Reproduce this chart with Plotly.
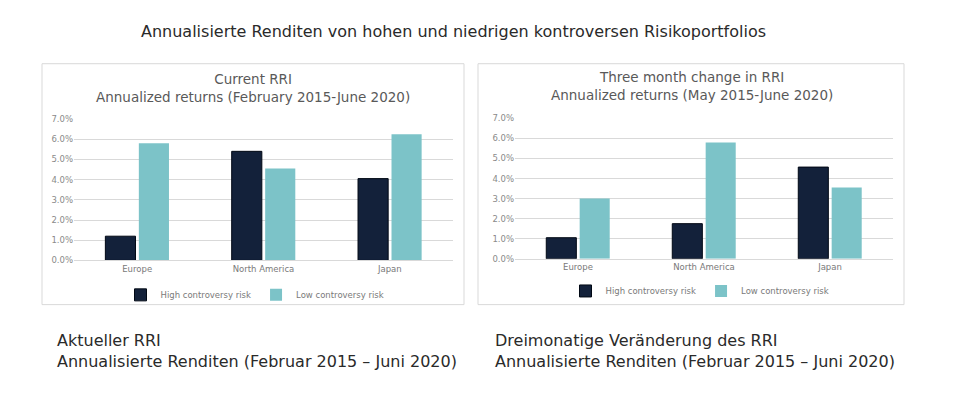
import plotly.graph_objects as go

categories = ["Europe", "North America", "Japan"]
series_names = ["High controversy risk", "Low controversy risk"]
current_high = [1.2, 5.4, 4.05]
current_low = [5.8, 4.55, 6.25]
change_high = [1.05, 1.75, 4.57]
change_low = [3.0, 5.8, 3.55]
y_ticks = [0, 1, 2, 3, 4, 5, 6, 7]
y_tick_labels = ["0.0%", "1.0%", "2.0%", "3.0%", "4.0%", "5.0%", "6.0%", "7.0%"]

main_title = "Annualisierte Renditen von hohen und niedrigen kontroversen Risikoportfolios"
left_title = "Current RRI<br>Annualized returns (February 2015-June 2020)"
right_title = "Three month change in RRI<br>Annualized returns (May 2015-June 2020)"
left_caption = "Aktueller RRI<br>Annualisierte Renditen (Februar 2015 – Juni 2020)"
right_caption = "Dreimonatige Veränderung des RRI<br>Annualisierte Renditen (Februar 2015 – Juni 2020)"

NAVY = "#13213a"
TEAL = "#7cc3c8"
GRID = "#d9d9d9"
FONT = "DejaVu Sans, sans-serif"

W, H = 960, 405
OFF = 8  # page body margin


def px_x(v):
    return (v - OFF) / W


def px_y(v):
    return 1 - (v - OFF) / H


fig = go.Figure()

fig.add_trace(go.Bar(x=categories, y=current_high, name=series_names[0],
                     marker=dict(color=NAVY, line=dict(color="#000814", width=1)),
                     xaxis="x", yaxis="y", legend="legend"))
fig.add_trace(go.Bar(x=categories, y=current_low, name=series_names[1],
                     marker=dict(color=TEAL, line=dict(width=0)),
                     xaxis="x", yaxis="y", legend="legend"))
fig.add_trace(go.Bar(x=categories, y=change_high, name=series_names[0],
                     marker=dict(color=NAVY, line=dict(color="#000814", width=1)),
                     xaxis="x2", yaxis="y2", legend="legend2"))
fig.add_trace(go.Bar(x=categories, y=change_low, name=series_names[1],
                     marker=dict(color=TEAL, line=dict(width=0)),
                     xaxis="x2", yaxis="y2", legend="legend2"))

yaxis_common = dict(range=[0, 7], tickvals=y_ticks, ticktext=y_tick_labels,
                    showgrid=True, gridcolor=GRID, gridwidth=1, zeroline=False,
                    tickfont=dict(size=8.5, color="#8a8a8a", family=FONT), ticks="", showline=False,
                    fixedrange=True)
xaxis_common = dict(showgrid=False, showline=True, linecolor=GRID, linewidth=1, ticks="",
                    tickfont=dict(size=8.5, color="#7a7a7a", family=FONT), fixedrange=True)

legend_common = dict(orientation="h", xanchor="center", yanchor="middle",
                     font=dict(size=8.5, color="#7a7a7a", family=FONT), itemwidth=30,
                     bgcolor="rgba(0,0,0,0)", traceorder="normal")

fig.update_layout(
    width=W, height=H,
    margin=dict(l=0, r=0, t=0, b=0),
    paper_bgcolor="white", plot_bgcolor="white",
    barmode="group", bargap=0.47, bargroupgap=0.1,
    font=dict(family=FONT),
    xaxis=dict(domain=[px_x(74), px_x(453)], anchor="y", **xaxis_common),
    yaxis=dict(domain=[px_y(261.7), px_y(116.7)], anchor="x", **yaxis_common),
    xaxis2=dict(domain=[px_x(515), px_x(893)], anchor="y2", **xaxis_common),
    yaxis2=dict(domain=[px_y(260), px_y(116)], anchor="x2", **yaxis_common),
    legend=dict(x=px_x(255), y=px_y(297), **legend_common),
    legend2=dict(x=px_x(700), y=px_y(293), **legend_common),
    showlegend=True,
)

shapes = [
    dict(type="rect", xref="paper", yref="paper", x0=px_x(42), x1=px_x(464), y0=px_y(307), y1=px_y(60),
         line=dict(color=GRID, width=1), fillcolor="rgba(0,0,0,0)", layer="below"),
    dict(type="rect", xref="paper", yref="paper", x0=px_x(478), x1=px_x(904), y0=px_y(307), y1=px_y(60),
         line=dict(color=GRID, width=1), fillcolor="rgba(0,0,0,0)", layer="below"),
]
fig.update_layout(shapes=shapes)

annotations = [
    dict(text=main_title, x=px_x(453), y=px_y(27), xanchor="center", yanchor="middle",
         font=dict(size=16, color="#2a2a2a", family=FONT)),
    dict(text=left_title, x=px_x(253), y=px_y(85), xanchor="center", yanchor="middle",
         font=dict(size=13.5, color="#595959", family=FONT)),
    dict(text=right_title, x=px_x(692), y=px_y(83), xanchor="center", yanchor="middle",
         font=dict(size=13.5, color="#595959", family=FONT)),
    dict(text=left_caption, x=px_x(55), y=px_y(355), xanchor="left", yanchor="middle", align="left",
         font=dict(size=16, color="#2a2a2a", family=FONT)),
    dict(text=right_caption, x=px_x(493), y=px_y(355), xanchor="left", yanchor="middle", align="left",
         font=dict(size=16, color="#2a2a2a", family=FONT)),
]
for a in annotations:
    a.update(xref="paper", yref="paper", showarrow=False)
fig.update_layout(annotations=annotations)

fig.write_html("out.html")
